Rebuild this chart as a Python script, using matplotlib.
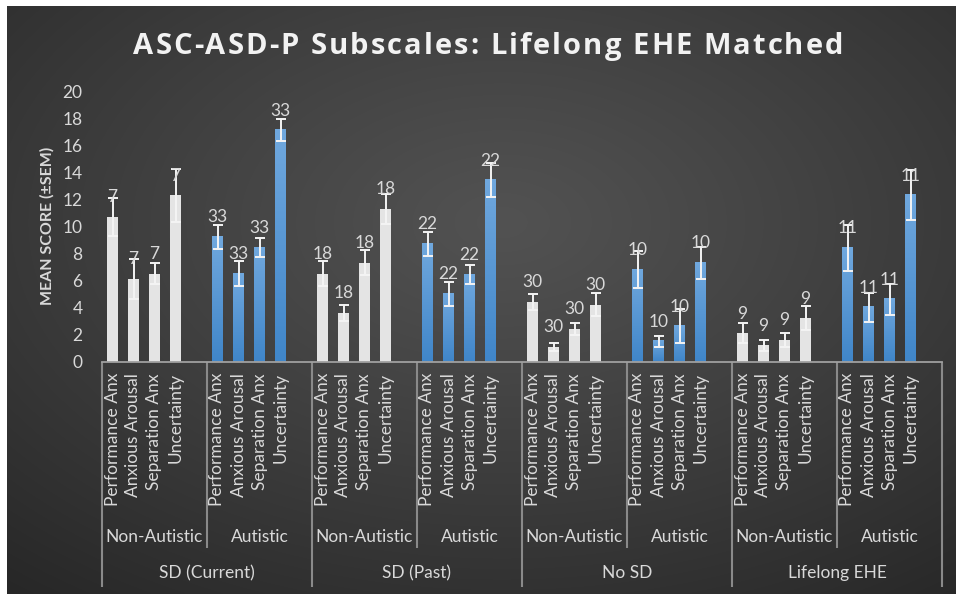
import numpy as np
import matplotlib
matplotlib.use("Agg")
import matplotlib.pyplot as plt
from matplotlib.transforms import blended_transform_factory
from matplotlib.font_manager import FontProperties

# ---------------- data ----------------
conditions = ["SD (Current)", "SD (Past)", "No SD", "Lifelong EHE"]
groups = ["Non-Autistic", "Autistic"]
subscales = ["Performance Anx", "Anxious Arousal", "Separation Anx", "Uncertainty"]

# means per condition, [Non-Autistic, Autistic] x subscales
sd_current_means = [[10.7, 6.1, 6.5, 12.3], [9.2, 6.5, 8.4, 17.1]]
sd_past_means = [[6.5, 3.6, 7.3, 11.3], [8.7, 5.0, 6.4, 13.4]]
no_sd_means = [[4.4, 1.1, 2.4, 4.2], [6.8, 1.5, 2.6, 7.3]]
lifelong_means = [[2.1, 1.2, 1.6, 3.2], [8.4, 4.0, 4.6, 12.3]]

sd_current_sem = [[1.4, 1.5, 0.8, 1.95], [0.9, 0.9, 0.7, 0.8]]
sd_past_sem = [[0.95, 0.57, 0.92, 1.1], [0.9, 0.9, 0.7, 1.25]]
no_sd_sem = [[0.57, 0.3, 0.42, 0.86], [1.35, 0.4, 1.25, 1.2]]
lifelong_sem = [[0.74, 0.42, 0.5, 0.9], [1.7, 1.05, 1.13, 1.85]]

n_counts = [[7, 33], [18, 22], [30, 10], [9, 11]]

title = "ASC-ASD-P Subscales: Lifelong EHE Matched"
ylabel = "MEAN SCORE (±SEM)"

all_means = [sd_current_means, sd_past_means, no_sd_means, lifelong_means]
all_sems = [sd_current_sem, sd_past_sem, no_sd_sem, lifelong_sem]

# ---------------- figure ----------------
W, H = 956, 595
fig = plt.figure(figsize=(W / 100, H / 100), dpi=100)
fig.patch.set_facecolor("white")

# background gradient panel
bg = fig.add_axes([7 / W, 1 / H, (W - 7) / W, (H - 7) / H])
bg.set_axis_off()
yy, xx = np.mgrid[0:300, 0:480]
cx, cy = 250, 110
r = np.sqrt(((xx - cx) / 480.0) ** 2 + ((yy - cy) / 300.0) ** 2)
r = r / r.max()
c_center, c_edge = 0x52 / 255, 0x27 / 255
val = c_center - (c_center - c_edge) * np.clip(r, 0, 1) ** 1.1
img = np.dstack([val, val, val])
bg.imshow(img, aspect="auto", extent=(0, 1, 0, 1), interpolation="bilinear")
bg.set_xlim(0, 1)
bg.set_ylim(0, 1)

x0p, x1p = 102, 942
y0p, y20p = 361.5, 91
ax = fig.add_axes([x0p / W, 1 - y0p / H, (x1p - x0p) / W, (y0p - y20p) / H])
ax.patch.set_alpha(0)

FONT = "Lato"
txt_col = "#d9d9d9"

bar_w = 0.52
white_col = "#e4e4e4"
blue_top = np.array([0x70, 0xa8, 0xde]) / 255
blue_bot = np.array([0x40, 0x86, 0xc9]) / 255

for ci in range(len(conditions)):
    for gi in range(len(groups)):
        base = (ci * 2 + gi) * 5
        xs = np.arange(4) + base
        means = all_means[ci][gi]
        sems = all_sems[ci][gi]
        if gi == 0:
            ax.bar(xs, means, width=bar_w, color=white_col, zorder=2)
        else:
            ax.bar(xs, means, width=bar_w, color=blue_bot, zorder=2)
            for x, m in zip(xs, means):
                grad = np.linspace(0, 1, 100)[:, None]
                g = blue_top[None, None, :] * (1 - grad[..., None]) + blue_bot[None, None, :] * grad[..., None]
                g = np.repeat(g, 2, axis=1)
                ax.imshow(g, extent=(x - bar_w / 2, x + bar_w / 2, 0, m), aspect="auto",
                          zorder=2.5, interpolation="bilinear")
        ax.errorbar(xs, means, yerr=sems, fmt="none", ecolor="#f4f4f4", elinewidth=1.4,
                    capsize=3.3, capthick=1.4, zorder=3)
        for x, m in zip(xs, means):
            ax.annotate(str(n_counts[ci][gi]), (x, m), xytext=(0, 10.5), textcoords="offset points",
                        ha="center", va="baseline", color=txt_col, fontsize=12.5,
                        family=FONT, zorder=4, annotation_clip=False)

ax.set_xlim(-0.5, 39.5)
ax.set_ylim(0, 20)
ax.set_yticks(np.arange(0, 21, 2))
ax.tick_params(axis="y", length=0, pad=14, labelcolor=txt_col, labelsize=12.5)
for lab in ax.get_yticklabels():
    lab.set_family(FONT)
ax.set_xticks([])
for s in ["top", "right", "left"]:
    ax.spines[s].set_visible(False)
ax.spines["bottom"].set_color("#a0a0a0")
ax.spines["bottom"].set_linewidth(1.3)

# y label
fig.text(47 / W, 1 - 226 / H, ylabel, rotation=90, ha="center", va="center",
         color="#d9d9d9", fontsize=11.5, fontweight="bold", family=FONT)

# title with letter spacing (to mimic the wide tracking of the original)
renderer = fig.canvas.get_renderer()
tfp = FontProperties(family="Open Sans", weight="bold", size=21)
def _w(s):
    return renderer.get_text_width_height_descent(s, tfp, ismath=False)[0]
full_w = _w(title)
target_w = 843 - 133
spacing = (target_w - full_w) / (len(title) - 1)
start_x = 488 - target_w / 2
for i, ch in enumerate(title):
    if ch == " ":
        continue
    left = _w(title[: i + 1]) - _w(ch) + i * spacing
    fig.text((start_x + left) / W, 1 - 54 / H, ch, ha="left", va="baseline",
             color="#f2f2f2", fontproperties=tfp)

# hierarchical category axis
tr = blended_transform_factory(ax.transData, fig.transFigure)
line_col = "#8a8a8a"
for ci in range(len(conditions)):
    for gi in range(len(groups)):
        base = (ci * 2 + gi) * 5
        for k, name in enumerate(subscales):
            ax.text(base + k, 1 - 373 / H, name, transform=tr, rotation=90, ha="center",
                    va="top", color=txt_col, fontsize=12.5, family=FONT, clip_on=False)
        ax.text(base + 2, 1 - 537 / H, groups[gi], transform=tr, ha="center", va="center",
                color=txt_col, fontsize=12.5, family=FONT, clip_on=False)
    ax.text(ci * 10 + 4.5, 1 - 573 / H, conditions[ci], transform=tr, ha="center", va="center",
            color=txt_col, fontsize=12.5, family=FONT, clip_on=False)

y_axis = 1 - y0p / H
for b in np.arange(-0.5, 40, 5):
    idx = int(round(b + 0.5)) // 5
    low = 548 if idx % 2 == 1 else 587
    ax.plot([b, b], [y_axis, 1 - low / H], transform=tr, color=line_col, lw=1.5,
            clip_on=False, zorder=1, solid_capstyle="butt")

fig.savefig("out.png", dpi=100, facecolor=fig.get_facecolor())
